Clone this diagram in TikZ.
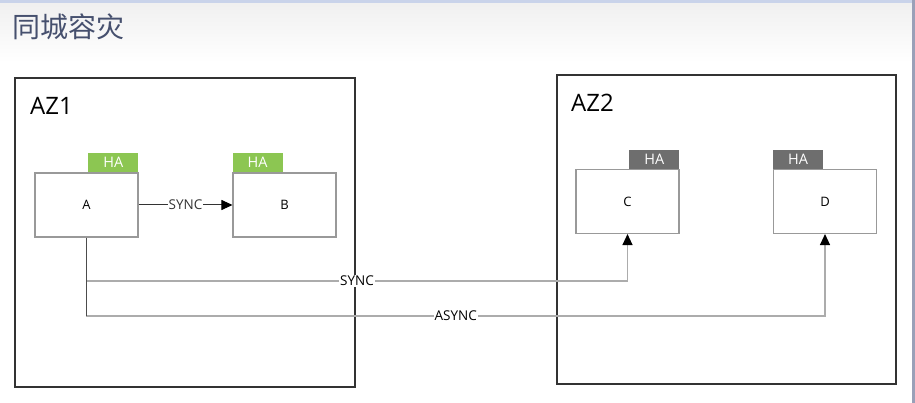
\documentclass[tikz,border=0pt]{standalone}
\usepackage{fontspec}
\setmainfont{Open Sans}
\newfontfamily\cjkfont{Noto Sans CJK SC}
\usetikzlibrary{arrows.meta,positioning}
\definecolor{hagreen}{HTML}{8CC652}
\definecolor{hagray}{HTML}{6E6E6E}
\definecolor{titleblue}{HTML}{46506E}
\definecolor{topband}{HTML}{C9D3EA}
\definecolor{edgeline}{HTML}{9AA0B8}

\begin{document}
\begin{tikzpicture}[
  x=1pt, y=-1pt,
  az/.style={draw=black!80, line width=1.3pt},
  azlbl/.style={anchor=base west, inner sep=0pt, font=\fontsize{24}{28}\selectfont},
  srv/.style={draw=gray!80, line width=1.1pt, fill=white, minimum width=103pt, minimum height=64pt, inner sep=0pt, font=\fontsize{13}{15}\selectfont},
  tagon/.style={fill=hagreen, text=white, minimum width=50pt, minimum height=19pt, inner sep=0pt, font=\fontsize{14.5}{16}\selectfont},
  tagoff/.style={fill=hagray, text=white, minimum width=50pt, minimum height=19pt, inner sep=0pt, font=\fontsize{14.5}{16}\selectfont},
  arr/.style={-{Triangle[length=11pt,width=10pt,color=black]}},
  link/.style={draw=gray!65, line width=1.2pt},
  lbl/.style={fill=white, inner sep=1pt, font=\fontsize{13.5}{15}\selectfont}
]
% background
\fill[white] (0,0) rectangle (915,403);
\shade[top color=black!6, bottom color=white] (0,3) rectangle (912,62);
\fill[topband] (0,0) rectangle (915,3);
\fill[edgeline] (912,0) rectangle (915,403);
\useasboundingbox (0,0) rectangle (915,403);

% title
\node[anchor=base west, inner sep=0pt, text=titleblue, font=\cjkfont\fontsize{28}{32}\selectfont] (title) at (12,38) {同城容灾};

% zones
\draw[az] (15,78) rectangle (355,387);
\draw[az] (557,75) rectangle (896,384);
\node[azlbl] (az1) at (30,115) {AZ1};
\node[azlbl] (az2) at (571,112) {AZ2};

% servers
\node[srv] (A) at (86.5,205) {A};
\node[srv] (B) at (284.5,205) {B};
\node[srv] (C) at (627.5,201.5) {C};
\node[srv] (D) at (825,201.5) {D};
\node[tagon, above left=0pt of A.north east, anchor=south east] (hA) {HA};
\node[tagon, above right=0pt of B.north west, anchor=south west] (hB) {HA};
\node[tagoff, above left=0pt of C.north east, anchor=south east] (hC) {HA};
\node[tagoff, above right=0pt of D.north west, anchor=south west] (hD) {HA};

% replication
\coordinate (syncrow) at (0,281);
\coordinate (asyncrow) at (0,316);
\draw[arr, black!80, line width=1pt] (A) -- node[lbl]{SYNC} (B);
\draw[link, arr] (A.south) -- (A.south |- syncrow) -| node[lbl, pos=0.25]{SYNC} (C.south);
\draw[link, arr] (A.south) -- (A.south |- asyncrow) -| node[lbl, pos=0.25]{ASYNC} (D.south);
\draw[black!70, line width=1.2pt] (A.south) -- (A.south |- asyncrow);
\end{tikzpicture}
\end{document}
